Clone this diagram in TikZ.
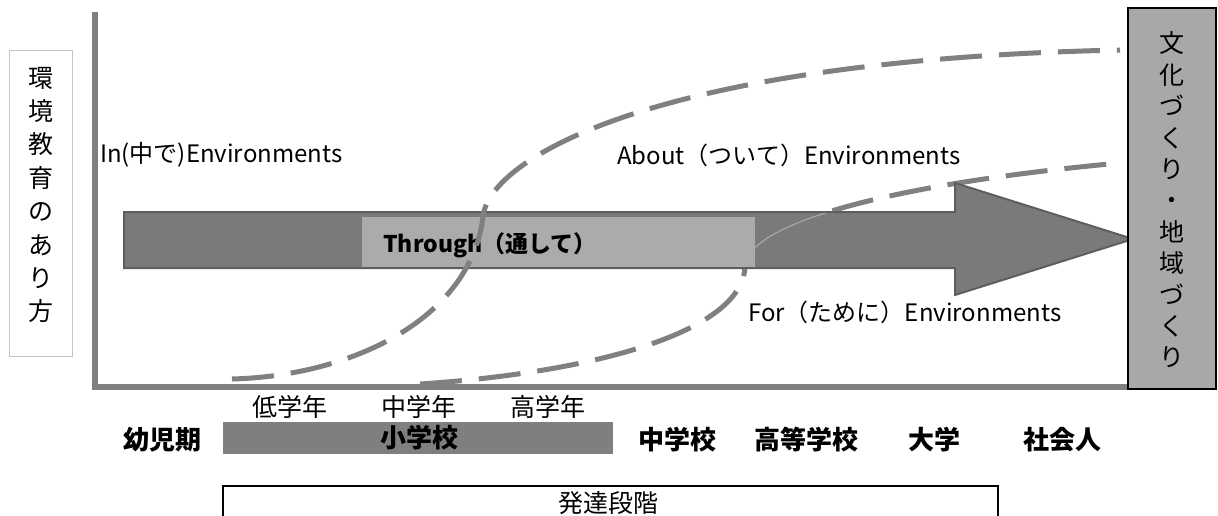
\documentclass[tikz,border=0pt]{standalone}
\usepackage{fontspec}
\setmainfont{Noto Sans CJK JP}
\definecolor{axisgray}{HTML}{7F7F7F}
\definecolor{arrowfill}{HTML}{7A7A7A}
\definecolor{arrowline}{HTML}{5E5E5E}
\definecolor{lightbox}{HTML}{ABABAB}
\definecolor{sidebox}{HTML}{A8A8A8}
\definecolor{dashgray}{HTML}{808080}
\definecolor{framegray}{HTML}{C4C4C4}
\begin{document}
\begin{tikzpicture}[x=1pt,y=-1pt,
  lbl/.style={inner sep=0, font=\fontsize{25}{30}\selectfont},
  blbl/.style={inner sep=0, font=\fontsize{26}{30}\selectfont\bfseries},
  envlbl/.style={inner sep=0, anchor=west, font=\fontsize{24}{28}\selectfont},
  dashcurve/.style={draw=dashgray, line width=5pt, dash pattern=on 42pt off 17pt},
  axisline/.style={draw=axisgray, line width=6pt},
  vtext/.style={inner sep=0, align=center},
]
\useasboundingbox (0,0) rectangle (1218,515);

% left label box
\node[draw=framegray, line width=1pt, minimum width=63pt, minimum height=306pt, inner sep=0] (leftbox) at (40.5,203) {};
\node[vtext, font=\fontsize{25}{33.4}\selectfont] (lefttext) at (40.5,195) {環\\境\\教\\育\\の\\あ\\り\\方};

% axes
\coordinate (ytop) at (95,12);
\coordinate (origin) at (95,387);
\coordinate (xend) at (1128,387);
\draw[axisline] (ytop) -- (origin) -- (xend);

% lower dashed curve (For), partly hidden by the arrow
\coordinate (f0) at (420,384);
\coordinate (f1) at (745,265);
\coordinate (f2) at (1120,163);
\draw[dashcurve] (f0) .. controls (600,372) and (745,330) .. (f1)
  .. controls (750,225) and (880,185) .. (f2);

% big arrow
\draw[fill=arrowfill, draw=arrowline, line width=2pt, line join=miter]
  (124,212) -- (955,212) -- (955,183) -- (1133,239) -- (955,295) -- (955,268) -- (124,268) -- cycle;

% faint trace of the For curve across the arrow shaft
\begin{scope}
  \clip (750,213) rectangle (955,267);
  \draw[draw=dashgray!70, line width=1.2pt] (f1) .. controls (750,225) and (880,185) .. (f2);
\end{scope}

% Through box
\node[fill=lightbox, minimum width=393pt, minimum height=50pt, inner sep=0] (through) at (558.5,242) {};
\node[inner sep=0, anchor=west, font=\fontsize{23}{28}\selectfont\bfseries] (throughtext) at (383,245) {Through（通して）};

% right box
\node[draw=black, fill=sidebox, line width=1.5pt, minimum width=88pt, minimum height=381pt, inner sep=0] (rightbox) at (1172,198.5) {};
\node[vtext, font=\fontsize{25}{31.4}\selectfont] (righttext) at (1172,200) {文\\化\\づ\\く\\り\\・\\地\\域\\づ\\く\\り};

% upper dashed curve (About)
\coordinate (a0) at (232,379);
\coordinate (a1) at (483,217);
\coordinate (a2) at (1120,50);
\draw[dashcurve] (a0) .. controls (350,376) and (470,320) .. (a1)
  .. controls (488,160) and (650,60) .. (a2);

% environment labels
\node[envlbl] (inlbl) at (100,155) {In(中で)Environments};
\node[envlbl] (aboutlbl) at (617,155) {About（ついて）Environments};
\node[envlbl] (forlbl) at (748,312) {For（ために）Environments};

% school grades
\node[lbl] (low) at (290,407) {低学年};
\node[lbl] (mid) at (419,407) {中学年};
\node[lbl] (high) at (548,407) {高学年};

\node[fill=axisgray, minimum width=390pt, minimum height=32pt, inner sep=0] (elem) at (418,438) {};
\node[blbl] (elemtext) at (419,438) {小学校};
\node[blbl] (infant) at (162,440) {幼児期};
\node[blbl] (jhs) at (677,440) {中学校};
\node[blbl] (hs) at (806,440) {高等学校};
\node[blbl] (univ) at (934,440) {大学};
\node[blbl] (adult) at (1062,440) {社会人};

% development stage box (cut off at the bottom)
\coordinate (d0) at (223,520);
\coordinate (d1) at (223,486);
\coordinate (d2) at (998,486);
\coordinate (d3) at (998,520);
\draw[black, line width=2pt] (d0) -- (d1) -- (d2) -- (d3);
\node[lbl] (stage) at (608,503) {発達段階};
\end{tikzpicture}
\end{document}
